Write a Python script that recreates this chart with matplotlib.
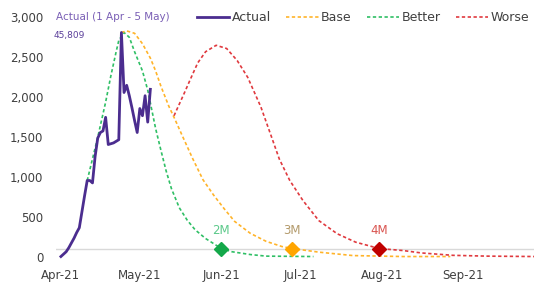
import numpy as np
import pandas as pd
import matplotlib
matplotlib.use("Agg")
import matplotlib.pyplot as plt
import matplotlib.dates as mdates
from matplotlib.ticker import FuncFormatter

START = pd.Timestamp("2021-04-01")

# Actual daily values, 1 Apr - 5 May
actual_dates = pd.date_range("2021-04-01", "2021-05-05", freq="D")
actual_values = [0, 30, 60, 110, 170, 230, 300, 360, 560, 760,
                 950, 950, 920, 1250, 1480, 1550, 1570, 1740, 1400, 1410,
                 1420, 1440, 1460, 2800, 2050, 2140, 2010, 1860, 1700, 1550,
                 1850, 1760, 2010, 1680, 2090]

# Scenario curves (days after 1 Apr, value)
better_days = [10, 14, 17, 19, 21, 22, 24, 26, 28, 31, 33, 35, 36, 38, 40, 42, 45, 48, 51, 55, 61, 65, 72, 78, 96]
better_values = [950, 1490, 1930, 2260, 2560, 2700, 2800, 2740, 2560, 2320, 2080, 1760, 1600, 1330, 1070, 850,
                 610, 455, 335, 225, 100, 60, 25, 5, 0]

base_days = [23, 25, 28, 31, 34, 36, 38, 41, 43, 46, 50, 54, 58, 62, 66, 72, 78, 84, 88, 98, 111, 130, 148]
base_values = [2800, 2820, 2790, 2660, 2480, 2320, 2130, 1880, 1740, 1520, 1230, 960, 770, 600, 440, 290,
               190, 125, 100, 55, 12, 0, 0]

worse_days = [43, 47, 49, 52, 55, 59, 63, 67, 71, 76, 80, 83, 87, 92, 98, 105, 112, 121, 130, 137, 149, 162, 180]
worse_values = [1760, 2050, 2200, 2420, 2560, 2640, 2600, 2450, 2240, 1870, 1500, 1220, 950, 700, 450, 285,
                180, 100, 75, 45, 15, 5, 0]

# Milestone markers (label, day, value)
marker_labels = ["2M", "3M", "4M"]
marker_days = [61, 88, 121]
marker_values = [100, 100, 100]

purple = "#4b2d8f"
orange = "#ffb42a"
green = "#2fbf65"
red = "#e0393e"
marker_colors = ["#14a84a", "#ffa500", "#c00000"]
marker_text_colors = ["#5cc98a", "#b39a6b", "#d9534f"]


def to_dates(days):
    return START + pd.to_timedelta(days, unit="D")


fig = plt.figure(figsize=(5.35, 2.87), dpi=100)
ax = fig.add_axes([0.104, 0.095, 0.895, 0.8475])

ax.axhline(100, color="#d9d9d9", lw=1.0, zorder=1)

ax.plot(to_dates(better_days), better_values, color=green, lw=1.2, ls=(0, (2, 1.5)), label="Better", zorder=2)
ax.plot(to_dates(base_days), base_values, color=orange, lw=1.2, ls=(0, (2, 1.5)), label="Base", zorder=2)
ax.plot(to_dates(worse_days), worse_values, color=red, lw=1.2, ls=(0, (2, 1.5)), label="Worse", zorder=2)
ax.plot(actual_dates, actual_values, color=purple, lw=2.0, label="Actual", zorder=3)

for lab, d, v, c, tc in zip(marker_labels, marker_days, marker_values, marker_colors, marker_text_colors):
    dt = to_dates([d])[0]
    ax.plot([dt], [v], marker="D", ms=7, color=c, zorder=4)
    ax.annotate(lab, (dt, v), xytext=(0, 8), textcoords="offset points",
                ha="center", va="bottom", fontsize=8.5, color=tc)

ax.text(0.0, 1.0, "Actual (1 Apr - 5 May)", transform=ax.transAxes, ha="left", va="center",
        fontsize=7.5, color="#7a5fb5")
ax.text(-0.004, 0.92, "45,809", transform=ax.transAxes, ha="left", va="center",
        fontsize=6.5, color="#5b3f9a")

ax.set_ylim(-40, 3000)
ax.set_xlim(to_dates([-2])[0], to_dates([180])[0])
ax.set_yticks(np.arange(0, 3001, 500))
ax.yaxis.set_major_formatter(FuncFormatter(lambda v, p: f"{int(v):,}"))
ax.xaxis.set_major_locator(mdates.MonthLocator(bymonth=[4, 5, 6, 7, 8, 9]))
ax.xaxis.set_major_formatter(mdates.DateFormatter("%b-%y"))
ax.tick_params(axis="both", length=0, labelsize=8.5, colors="#404040")
ax.tick_params(axis="y", pad=9)
ax.tick_params(axis="x", pad=7)
for s in ax.spines.values():
    s.set_visible(False)

handles, labels = ax.get_legend_handles_labels()
order = [labels.index(n) for n in ["Actual", "Base", "Better", "Worse"]]
ax.legend([handles[i] for i in order], [labels[i] for i in order], loc="center right",
          bbox_to_anchor=(1.0, 0.995), ncol=4, frameon=False, fontsize=9, handlelength=2.6,
          handletextpad=0.2, columnspacing=1.2, labelcolor="#404040", borderaxespad=0)

fig.savefig("out.png", dpi=100)
